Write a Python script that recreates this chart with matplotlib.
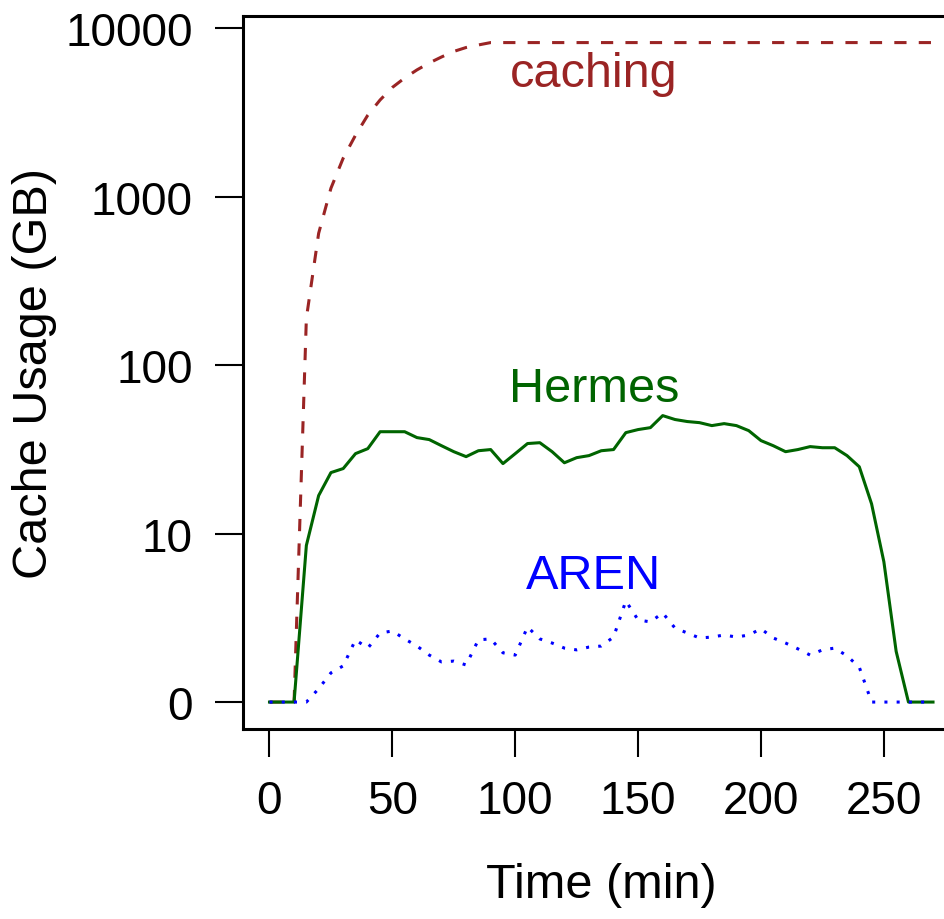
import matplotlib
matplotlib.use('Agg')
import matplotlib.pyplot as plt
import numpy as np

plt.rcParams['font.family'] = ['Liberation Sans', 'DejaVu Sans']

# time axis, one sample every 5 minutes
time_min = np.arange(0, 275, 5)

# cache usage in GB
hermes_gb = [0, 0, 0, 8.5, 16.8, 23.0, 24.3, 29.8, 31.9, 40.2, 40.2, 40.2, 37.1, 36.1,
             33.2, 30.6, 28.6, 31.0, 31.5, 26.0, 29.8, 34.2, 34.6, 30.6, 26.3, 28.2,
             29.0, 31.0, 31.5, 39.7, 41.4, 42.5, 50.1, 47.5, 46.2, 45.5, 43.7, 44.9,
             43.7, 40.8, 35.6, 33.2, 30.6, 31.5, 32.8, 32.3, 32.3, 29.0, 24.9, 15.0,
             6.8, 2.0, 0, 0, 0]
aren_gb = [0, 0, 0, 0, 1.2, 1.49, 1.64, 2.34, 2.09, 2.57, 2.64, 2.37, 2.15, 1.90,
           1.73, 1.75, 1.66, 2.34, 2.37, 1.96, 1.90, 2.79, 2.37, 2.24, 2.09, 2.04,
           2.12, 2.15, 2.43, 3.98, 3.07, 2.99, 3.38, 2.75, 2.57, 2.40, 2.43, 2.50,
           2.43, 2.50, 2.72, 2.40, 2.24, 2.07, 1.90, 2.04, 2.09, 1.88, 1.61, 0,
           0, 0, 0, 0, 0]
caching_gb = [0, 0, 0, 189, 605, 1120, 1690, 2310, 3040, 3740, 4440, 5050, 5640,
              6200, 6730, 7260, 7660, 7930] + [8192] * 37

ytick_gb = [0, 10, 100, 1000, 10000]
xtick_min = [0, 50, 100, 150, 200, 250]


def to_axis(v):
	# log10 of usage, zero drawn at the bottom tick
	return np.log10(np.maximum(np.asarray(v, dtype=float), 1))


fig = plt.figure(figsize=(9.45, 9.2), dpi=100)
ax = fig.add_axes([0.2571, 0.2065, 0.7583, 0.775])

ax.plot(time_min, to_axis(caching_gb), color='#9a2424', lw=2.2, dashes=(4, 4))
ax.plot(time_min, to_axis(hermes_gb), color='#006400', lw=2.2)
ax.plot(time_min, to_axis(aren_gb), color='#0000ff', lw=2.2, dashes=(1, 3))

ax.text(132, 3.656, 'caching', color='#9a2424', fontsize=35, ha='center', va='baseline')
ax.text(132, 1.786, 'Hermes', color='#006400', fontsize=35, ha='center', va='baseline')
ax.text(132, 0.677, 'AREN', color='#0000ff', fontsize=35, ha='center', va='baseline')

ax.set_xlim(-10.8, 280.8)
ax.set_ylim(-0.160, 4.071)
ax.set_xticks(xtick_min)
ax.set_yticks(to_axis(ytick_gb))
ax.set_yticklabels([str(v) for v in ytick_gb])
ax.tick_params(direction='out', length=20, width=1.5, labelsize=33, pad=16)

for s in ax.spines.values():
	s.set_linewidth(2.2)

ax.set_xlabel('Time (min)', fontsize=35, labelpad=28)
ax.set_ylabel('Cache Usage (GB)', fontsize=35, labelpad=6)

fig.savefig('out.png', dpi=100)
